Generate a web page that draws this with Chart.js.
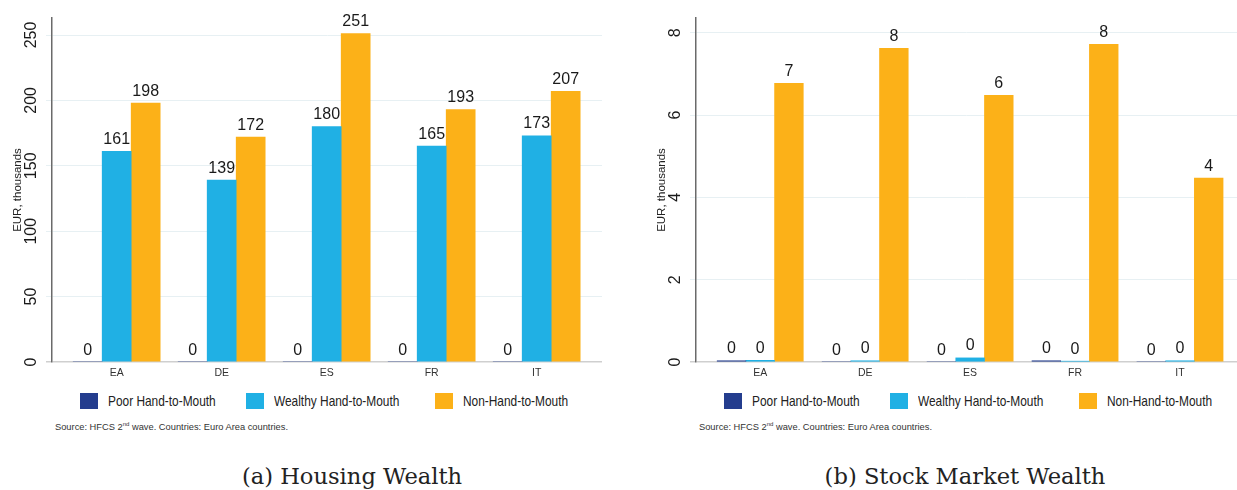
<!DOCTYPE html>
<html>
<head>
    <title>Housing and Stock Market Wealth</title>
    <meta charset="UTF-8">
    <script src="https://cdn.jsdelivr.net/npm/chart.js"></script>
    <style>
        body { margin: 0; background: #fff; font-family: 'Liberation Sans', Arial, sans-serif; }
        .panel { position: absolute; top: 0; height: 490px; }
        .panel canvas { position: absolute; left: 0; top: 0; }
        .box { position: absolute; top: 393px; width: 18px; height: 16px; }
        .lbl { position: absolute; top: 392px; font-size: 14.5px; line-height: 18px; color: #222; white-space: nowrap; transform: scaleX(0.82); transform-origin: 0 0; }
        .src { position: absolute; top: 421px; font-size: 9.3px; color: #333; white-space: nowrap; }
        .src sup { font-size: 6px; }
        .cap { position: absolute; top: 465px; font-family: 'DejaVu Serif', serif; font-size: 22.6px; line-height: 23px; color: #222; white-space: nowrap; transform: translateX(-50%); }
    </style>
</head>
<body>
    <div class="panel" id="pa" style="left:0;width:618px">
        <canvas id="housing" width="618" height="385"></canvas>
    </div>
    <div class="panel" id="pb" style="left:644px;width:593px">
        <canvas id="stock" width="593" height="385"></canvas>
    </div>
<script>
    // 国家
    var countries = ['EA', 'DE', 'ES', 'FR', 'IT'];
    var seriesNames = ['Poor Hand-to-Mouth', 'Wealthy Hand-to-Mouth', 'Non-Hand-to-Mouth'];
    var seriesColors = ['#243d8e', '#20b0e4', '#fcb118'];

    // (a) 住房财富, 千欧元
    var housingPoor = [0, 0, 0, 0, 0];
    var housingWealthy = [161, 139, 180, 165, 173];
    var housingNon = [198, 172, 251, 193, 207];
    var housingTicks = [0, 50, 100, 150, 200, 250];

    // (b) 股票财富, 千欧元
    var stockPoor = [0.03, 0, 0, 0.03, 0];
    var stockWealthy = [0.04, 0.03, 0.1, 0.02, 0.03];
    var stockNon = [6.77, 7.62, 6.48, 7.72, 4.47];
    var stockTicks = [0, 2, 4, 6, 8];

    // 柱顶数值 + 竖排y轴刻度
    var labelPlugin = {
        id: 'labels',
        afterDraw: function (chart) {
            var ctx = chart.ctx;
            ctx.save();
            ctx.fillStyle = '#1a1a1a';
            ctx.font = '16px "Liberation Sans", Arial, sans-serif';
            ctx.textAlign = 'center';
            ctx.textBaseline = 'alphabetic';
            chart.data.datasets.forEach(function (ds, i) {
                chart.getDatasetMeta(i).data.forEach(function (bar, j) {
                    ctx.fillText(String(Math.round(ds.data[j].y)), bar.x, bar.y - 7.5);
                });
            });
            var ys = chart.scales.y;
            ctx.textBaseline = 'middle';
            ys.ticks.forEach(function (t) {
                ctx.save();
                ctx.translate(chart.chartArea.left - 20, ys.getPixelForValue(t.value));
                ctx.rotate(-Math.PI / 2);
                ctx.fillText(String(t.value), 0, 0);
                ctx.restore();
            });
            ctx.restore();
        }
    };

    function makeChart(id, poor, wealthy, non, ticks, yMax, xMin, xMax, thick, padRight) {
        var ctx = document.getElementById(id).getContext('2d');
        var groups = [poor, wealthy, non];
        return new Chart(ctx, {
            type: 'bar',
            data: {
                datasets: groups.map(function (vals, k) {
                    return {
                        label: seriesNames[k],
                        data: vals.map(function (v, i) { return { x: i, y: v }; }),
                        backgroundColor: seriesColors[k],
                        borderWidth: 0,
                        barThickness: thick
                    };
                })
            },
            options: {
                responsive: false,
                animation: false,
                layout: { padding: { top: 18, right: padRight, left: 0, bottom: 0 } },
                plugins: { legend: { display: false }, tooltip: { enabled: false } },
                scales: {
                    x: {
                        type: 'linear',
                        offset: false,
                        min: xMin,
                        max: xMax,
                        afterBuildTicks: function (s) {
                            s.ticks = countries.map(function (c, i) { return { value: i }; });
                        },
                        afterFit: function (s) { s.height = 23; },
                        grid: { display: false, drawTicks: false },
                        border: { display: false },
                        ticks: {
                            padding: 5,
                            color: '#333',
                            font: { size: 10.5, family: '"Liberation Sans", Arial, sans-serif' },
                            callback: function (v) { return countries[v]; }
                        }
                    },
                    y: {
                        min: 0,
                        max: yMax,
                        afterBuildTicks: function (s) {
                            s.ticks = ticks.map(function (v) { return { value: v }; });
                        },
                        afterFit: function (s) { s.width = 52; },
                        border: { color: '#6a6a6a', width: 1.5 },
                        grid: {
                            tickLength: 6,
                            color: function (c) { return c.tick && c.tick.value === 0 ? '#cfcfcf' : '#e7f0f3'; },
                            lineWidth: function (c) { return c.tick && c.tick.value === 0 ? 1.5 : 1; }
                        },
                        ticks: { display: false },
                        title: {
                            display: true,
                            text: 'EUR, thousands',
                            color: '#222',
                            padding: { top: 11, bottom: 0 },
                            font: { size: 11.5, family: '"Liberation Sans", Arial, sans-serif' }
                        }
                    }
                }
            },
            plugins: [labelPlugin]
        });
    }

    var chartA = makeChart('housing', housingPoor, housingWealthy, housingNon, housingTicks, 263, -0.616, 4.622, 29, 16);
    var chartB = makeChart('stock', stockPoor, stockWealthy, stockNon, stockTicks, 8.36, -0.612, 4.543, 28.7, 0);

    // 图例, 来源, 标题
    function addNotes(panelId, caption, capCenter) {
        var p = document.getElementById(panelId);
        var boxLeft = [80, 246, 435];
        seriesNames.forEach(function (name, k) {
            var b = document.createElement('div');
            b.className = 'box';
            b.style.left = boxLeft[k] + 'px';
            b.style.background = seriesColors[k];
            p.appendChild(b);
            var t = document.createElement('div');
            t.className = 'lbl';
            t.style.left = (boxLeft[k] + 28) + 'px';
            t.textContent = name;
            p.appendChild(t);
        });
        var s = document.createElement('div');
        s.className = 'src';
        s.style.left = '55px';
        s.innerHTML = 'Source: HFCS 2<sup>nd</sup> wave. Countries: Euro Area countries.';
        p.appendChild(s);
        var c = document.createElement('div');
        c.className = 'cap';
        c.style.left = capCenter + 'px';
        c.textContent = caption;
        p.appendChild(c);
    }
    addNotes('pa', '(a) Housing Wealth', 352);
    addNotes('pb', '(b) Stock Market Wealth', 321);
</script>
</body>
</html>
